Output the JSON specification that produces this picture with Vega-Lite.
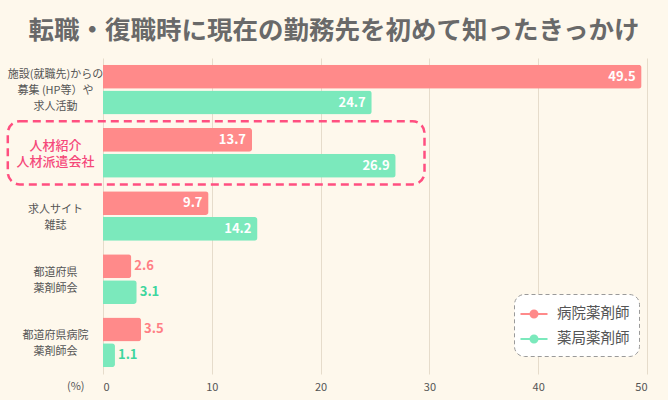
{
  "$schema": "https://vega.github.io/schema/vega-lite/v6.json",
  "width": 544,
  "height": 316,
  "autosize": {"type": "none"},
  "padding": {"left": 103, "top": 58, "right": 21, "bottom": 26},
  "background": "#fef8ec",
  "title": {
    "text": "転職・復職時に現在の勤務先を初めて知ったきっかけ",
    "font": "Noto Sans CJK JP",
    "fontSize": 25.5,
    "fontWeight": "bold",
    "color": "#696969",
    "anchor": "middle",
    "baseline": "bottom",
    "dx": -41,
    "dy": 25,
    "offset": 14
  },
  "config": {
    "view": {"stroke": null},
    "font": "Noto Sans CJK JP",
    "axis": {"labelFont": "Noto Sans CJK JP", "titleFont": "Noto Sans CJK JP"},
    "legend": {"labelFont": "Noto Sans CJK JP"}
  },
  "datasets": {
    "main": [
      {"category": "施設(就職先)からの|募集 (HP等）や|求人活動", "series": "病院薬剤師", "value": 49.5},
      {"category": "施設(就職先)からの|募集 (HP等）や|求人活動", "series": "薬局薬剤師", "value": 24.7},
      {"category": "人材紹介|人材派遣会社", "series": "病院薬剤師", "value": 13.7},
      {"category": "人材紹介|人材派遣会社", "series": "薬局薬剤師", "value": 26.9},
      {"category": "求人サイト|雑誌", "series": "病院薬剤師", "value": 9.7},
      {"category": "求人サイト|雑誌", "series": "薬局薬剤師", "value": 14.2},
      {"category": "都道府県|薬剤師会", "series": "病院薬剤師", "value": 2.6},
      {"category": "都道府県|薬剤師会", "series": "薬局薬剤師", "value": 3.1},
      {"category": "都道府県病院|薬剤師会", "series": "病院薬剤師", "value": 3.5},
      {"category": "都道府県病院|薬剤師会", "series": "薬局薬剤師", "value": 1.1}
    ],
    "highlight": [
      {"category": "人材紹介|人材派遣会社", "x1": -8.75, "x2": 29.55}
    ]
  },
  "layer": [
    {
      "data": {"name": "main"},
      "mark": {"type": "bar", "cornerRadiusEnd": 3},
      "encoding": {
        "y": {
          "field": "category", "type": "nominal",
          "scale": {
            "domain": ["施設(就職先)からの|募集 (HP等）や|求人活動", "人材紹介|人材派遣会社", "求人サイト|雑誌", "都道府県|薬剤師会", "都道府県病院|薬剤師会"],
            "paddingInner": 0.213, "paddingOuter": 0.107
          },
          "axis": {
            "title": null,
            "domain": false,
            "ticks": false,
            "grid": false,
            "labelExpr": "split(datum.label, '|')",
            "labelAlign": "center",
            "labelBaseline": "middle",
            "labelPadding": 48,
            "labelLimit": 0,
            "labelLineHeight": 16,
            "labelOffset": {"condition": {"test": "datum.value === '施設(就職先)からの|募集 (HP等）や|求人活動'", "value": -14.5}, "value": -6.5},
            "labelFontSize": {"condition": {"test": "datum.value === '人材紹介|人材派遣会社'", "value": 13}, "value": 11},
            "labelColor": {"condition": {"test": "datum.value === '人材紹介|人材派遣会社'", "value": "#f5487a"}, "value": "#555555"},
            "labelFontWeight": {"condition": {"test": "datum.value === '人材紹介|人材派遣会社'", "value": 500}, "value": "normal"}
          }
        },
        "yOffset": {
          "field": "series", "type": "nominal",
          "scale": {"domain": ["病院薬剤師", "薬局薬剤師"], "paddingInner": 0.077, "paddingOuter": 0}
        },
        "x": {
          "field": "value", "type": "quantitative",
          "scale": {"domain": [0, 50], "nice": false},
          "axis": {
            "values": [0, 10, 20, 30, 40, 50],
            "domain": false,
            "ticks": false,
            "grid": true,
            "gridColor": "#e6dccb",
            "gridWidth": 1,
            "labelFontSize": 11,
            "labelColor": "#555555",
            "labelPadding": 7,
            "title": "(%)",
            "titleFontSize": 11,
            "titleFontWeight": "normal",
            "titleColor": "#555555",
            "titleAlign": "right",
            "titleBaseline": "middle",
            "titleX": -19,
            "titleY": 12
          }
        },
        "color": {
          "field": "series", "type": "nominal",
          "scale": {"domain": ["病院薬剤師", "薬局薬剤師"], "range": ["#ff8a8a", "#7be9bc"]},
          "legend": {
            "title": null,
            "orient": "none",
            "legendX": 411,
            "legendY": 236,
            "fillColor": "#ffffff",
            "strokeColor": "#9a9a9a",
            "cornerRadius": 10,
            "padding": 9,
            "rowPadding": 6,
            "labelFontSize": 14.5,
            "labelColor": "#555555",
            "labelOffset": 12,
            "symbolSize": 400,
            "symbolType": "M-1.35,0H1.35M0.35,0A0.35,0.35,0,1,1,-0.35,0A0.35,0.35,0,1,1,0.35,0Z",
            "encode": {
              "legend": {
                "update": {
                  "strokeDash": {"value": [4, 3]}
                }
              },
              "symbols": {
                "update": {
                  "stroke": {"signal": "scale('color', datum.value)"},
                  "strokeWidth": {"value": 2},
                  "fill": {"signal": "scale('color', datum.value)"},
                  "opacity": {"value": 1},
                  "fillOpacity": {"value": 1},
                  "strokeOpacity": {"value": 1}
                }
              }
            }
          }
        }
      }
    },
    {
      "data": {"name": "main"},
      "transform": [{"filter": "datum.value >= 5"}],
      "mark": {"type": "text", "align": "right", "baseline": "middle", "dx": -6, "fontSize": 13, "fontWeight": "bold", "fill": "#ffffff"},
      "encoding": {
        "y": {"field": "category", "type": "nominal"},
        "yOffset": {"field": "series", "type": "nominal"},
        "x": {"field": "value", "type": "quantitative"},
        "text": {"field": "value", "type": "quantitative", "format": ".1f"}
      }
    },
    {
      "data": {"name": "main"},
      "transform": [{"filter": "datum.value < 5"}],
      "mark": {"type": "text", "align": "left", "baseline": "middle", "dx": 3, "fontSize": 13, "fontWeight": "bold"},
      "encoding": {
        "y": {"field": "category", "type": "nominal"},
        "yOffset": {"field": "series", "type": "nominal"},
        "x": {"field": "value", "type": "quantitative"},
        "text": {"field": "value", "type": "quantitative", "format": ".1f"},
        "fill": {"condition": {"test": "datum.series === '病院薬剤師'", "value": "#ff7f85"}, "value": "#3fd69e"}
      }
    },
    {
      "data": {"name": "highlight"},
      "mark": {"type": "bar", "fill": "transparent", "stroke": "#ff4f80", "strokeWidth": 2.5, "strokeDash": [8, 5], "cornerRadius": 12, "height": {"band": 1.27}, "clip": false},
      "encoding": {
        "y": {"field": "category", "type": "nominal"},
        "x": {"field": "x1", "type": "quantitative"},
        "x2": {"field": "x2"}
      }
    }
  ]
}
